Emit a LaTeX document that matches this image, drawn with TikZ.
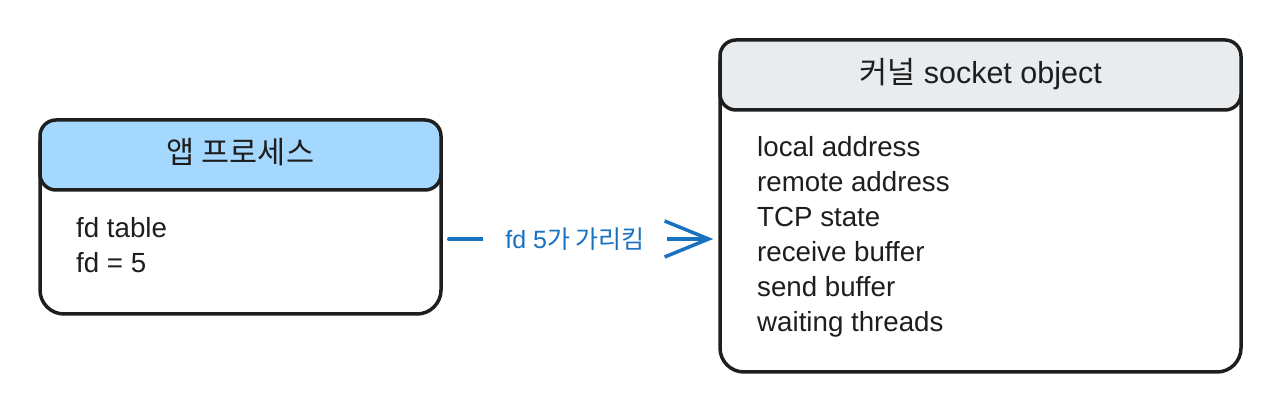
\documentclass[tikz,border=0pt]{standalone}
\usepackage{fontspec}
\setmainfont{Liberation Sans}
\newfontfamily\kr{Noto Sans CJK KR}
\usetikzlibrary{arrows.meta}
\definecolor{hdrblue}{HTML}{A5D8FF}
\definecolor{hdrgrey}{HTML}{E9ECEF}
\definecolor{arrblue}{HTML}{1971C2}
\definecolor{ink}{HTML}{1E1E1E}
\begin{document}
\begin{tikzpicture}[x=1pt,y=1pt,
  boxbody/.style={draw=ink, line width=3.5pt, rounded corners=24pt, fill=white, inner sep=0pt},
  boxhead/.style={draw=ink, line width=3.5pt, rounded corners=16pt, inner sep=0pt},
  title/.style={text=ink, font=\fontsize{30.5}{36}\selectfont, inner sep=0pt, anchor=base},
  item/.style={text=ink, font=\fontsize{27.7}{33}\selectfont, anchor=base west, inner sep=0pt},
  lbl/.style={text=arrblue, font=\fontsize{25}{30}\selectfont, fill=white, inner xsep=22pt, inner ysep=4pt}
]
\useasboundingbox (0,0) rectangle (1280,414);
% left box
\node[boxbody, minimum width=401pt, minimum height=194pt] (app) at (240.5,197) {};
\node[boxhead, fill=hdrblue, minimum width=401pt, minimum height=70pt] (apphead) at (240.5,259) {};
\node[title] (apptitle) at (240.5,250) {\kr 앱 프로세스};
\node[item] (fdtable) at (76,176.3) {fd table};
\node[item] (fdnum) at (76,141.7) {fd = 5};
% right box
\node[boxbody, minimum width=521pt, minimum height=332pt] (sock) at (980.5,208) {};
\node[boxhead, fill=hdrgrey, minimum width=521pt, minimum height=70pt] (sockhead) at (980.5,339) {};
\node[title] (socktitle) at (980.5,330.7) {{\kr 커널} socket object};
\node[item] (l1) at (757,257) {local address};
\node[item] (l2) at (757,222) {remote address};
\node[item] (l3) at (757,187) {TCP state};
\node[item] (l4) at (757,152) {receive buffer};
\node[item] (l5) at (757,117) {send buffer};
\node[item] (l6) at (757,82) {waiting threads};
% connector
\draw[arrblue, line width=3.5pt, line cap=round,
  -{Straight Barb[length=44pt, width=36pt, line width=3.5pt]},
  shorten <=6pt, shorten >=5pt]
  (app.east |- 0,175) -- node[lbl, pos=0.48] (lab) {fd 5{\kr 가 가리킴}} (sock.west |- 0,175);
\end{tikzpicture}
\end{document}
